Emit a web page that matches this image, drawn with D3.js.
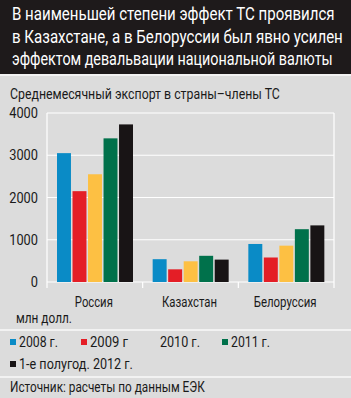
<!DOCTYPE html>
<html>
<head>
<meta charset="utf-8">
<script src="https://cdn.jsdelivr.net/npm/d3@7"></script>
<style>
  body { margin: 0; background: #dcdcdc; }
  svg { display: block; }
  text { font-family: Roboto, "DejaVu Sans", sans-serif; }
</style>
</head>
<body>
<div id="chart"></div>
<script>
// data (млн долл.)
const countries = ["Россия", "Казахстан", "Белоруссия"];
const years = ["2008 г.", "2009 г", "2010 г.", "2011 г.", "1-е полугод. 2012 г."];
const v2008 = [3050, 540, 900];
const v2009 = [2150, 300, 580];
const v2010 = [2550, 490, 860];
const v2011 = [3400, 620, 1250];
const v2012h1 = [3730, 530, 1340];
const yTicks = [0, 1000, 2000, 3000, 4000];
const colors = ["#0a8bc6", "#e41e26", "#fdc043", "#00714b", "#181415"];

const titleLines = [
  "В наименьшей степени эффект ТС проявился",
  "в Казахстане, а в Белоруссии был явно усилен",
  "эффектом девальвации национальной валюты"
];

const series = [v2008, v2009, v2010, v2011, v2012h1];

const W = 351, H = 398;
const svg = d3.select("#chart").append("svg")
  .attr("width", W)
  .attr("height", H);

// squeeze a text horizontally to a given width (the original font is condensed)
function fitText(g, str, x, y, width, size, anchor, color) {
  const t = g.append("text")
    .attr("font-size", size)
    .attr("fill", color || "#1a1a1a")
    .attr("text-anchor", anchor || "start")
    .text(str);
  const natural = t.node().getComputedTextLength();
  const k = width / natural;
  t.attr("transform", `translate(${x},${y}) scale(${k},1)`);
  return t;
}

// background and title box
svg.append("rect").attr("width", W).attr("height", H).attr("fill", "#dcdcdc");
svg.append("rect").attr("width", W).attr("height", 74).attr("fill", "#1e1a1b");
svg.append("rect").attr("y", 74).attr("width", W).attr("height", 2).attr("fill", "#f2f2f2");

const titleWidths = [323, 331, 321];
titleLines.forEach((d, i) => {
  fitText(svg, d, 12, 20 + i * 22.5, titleWidths[i], 18, "start", "#ffffff");
});

fitText(svg, "Среднемесячный экспорт в страны–члены ТС", 10, 99, 270, 15);

// scales
const x = d3.scaleBand().domain(countries).range([47, 334]);
const xs = d3.scaleBand().domain(years).range([10, 86]).paddingInner(0.1);
const y = d3.scaleLinear().domain([0, 4000]).range([282, 113]);

// grid
svg.append("g")
  .selectAll("line")
  .data(yTicks)
  .enter()
  .append("line")
  .attr("x1", 47).attr("x2", 334)
  .attr("y1", d => y(d)).attr("y2", d => y(d))
  .attr("stroke", "#ffffff").attr("stroke-width", 1.2);

// vertical frame lines and category ticks
const bounds = [47, x("Казахстан"), x("Белоруссия"), 334];
svg.append("g")
  .selectAll("line")
  .data(bounds)
  .enter()
  .append("line")
  .attr("x1", d => d).attr("x2", d => d)
  .attr("y1", (d, i) => (i === 0 || i === 3) ? y(4000) : y(0))
  .attr("y2", 288)
  .attr("stroke", "#ffffff").attr("stroke-width", 1.2);

// y labels
const yLab = svg.append("g");
yTicks.forEach(d => {
  fitText(yLab, String(d), 38, y(d) + 5, String(d).length * 7.2, 15.5, "end");
});

// bars
const groups = svg.append("g")
  .selectAll("g")
  .data(countries)
  .enter()
  .append("g")
  .attr("transform", d => `translate(${x(d)},0)`);

groups.selectAll("rect")
  .data((c, ci) => years.map((yr, si) => ({ yr: yr, v: series[si][ci], si: si })))
  .enter()
  .append("rect")
  .attr("x", d => xs(d.yr))
  .attr("width", xs.bandwidth())
  .attr("y", d => y(d.v))
  .attr("height", d => y(0) - y(d.v))
  .attr("fill", d => colors[d.si]);

// category labels
const catWidths = [38, 55, 63];
const catLab = svg.append("g");
countries.forEach((d, i) => {
  fitText(catLab, d, x(d) + x.bandwidth() / 2 - 1, 307, catWidths[i], 15, "middle");
});

fitText(svg, "млн долл.", 16, 323, 56, 14.5);

svg.append("rect").attr("y", 329).attr("width", W).attr("height", 2).attr("fill", "#f2f2f2");
svg.append("rect").attr("y", 376).attr("width", W).attr("height", 2).attr("fill", "#f2f2f2");

// legend
const legendPos = [[10, 347], [81, 347], [151, 347], [222, 347], [10, 369]];
const legendWidths = [39, 38, 40, 39, 114];
const legend = svg.append("g");
years.forEach((d, i) => {
  const [lx, ly] = legendPos[i];
  legend.append("rect")
    .attr("x", lx).attr("y", ly - 8)
    .attr("width", 6).attr("height", 6)
    .attr("fill", colors[i])
    .attr("opacity", i === 2 ? 0 : 1);
  fitText(legend, d, lx + 9, ly, legendWidths[i], 15);
});

fitText(svg, "Источник: расчеты по данным ЕЭК", 10, 392, 195, 15);
</script>
</body>
</html>
